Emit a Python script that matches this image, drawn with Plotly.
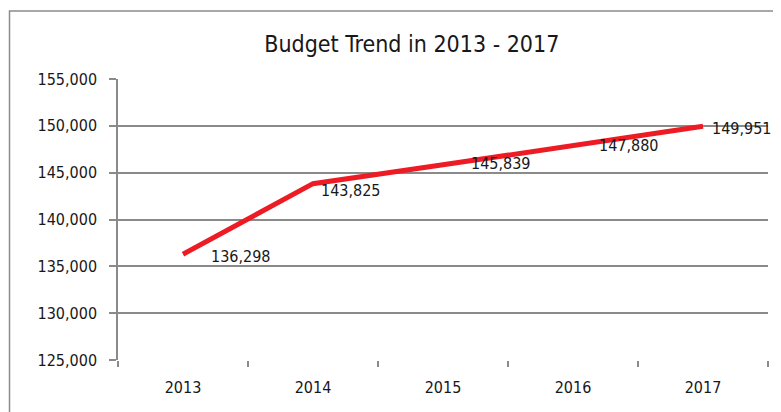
import plotly.graph_objects as go

years = ["2013", "2014", "2015", "2016", "2017"]
budget = [136298, 143825, 145839, 147880, 149951]
label_text = ["136,298", "143,825", "145,839", "147,880", "149,951"]
y_ticks = [125000, 130000, 135000, 140000, 145000, 150000, 155000]
y_tick_text = ["125,000", "130,000", "135,000", "140,000", "145,000", "150,000", "155,000"]

label_dx = [26, 6, 26, 24, 7]
label_dy = [-2, -7, 1, 0, -2]

FONT = "DejaVu Sans Condensed, Liberation Sans Narrow, Roboto, sans-serif"
GRID = "#8a8a8a"
TXT = "#1a1718"

fig = go.Figure()
fig.add_trace(go.Scatter(
    x=years, y=budget, mode="lines",
    line=dict(color="#ED1C24", width=5),
    hoverinfo="skip", showlegend=False,
))

for i, (y, t, dx, dy) in enumerate(zip(budget, label_text, label_dx, label_dy)):
    fig.add_annotation(x=i, y=y, xref="x", yref="y", text=t, showarrow=False,
                       xanchor="left", yanchor="middle",
                       xshift=dx, yshift=dy,
                       font=dict(family=FONT, size=16, color=TXT))

fig.add_shape(type="rect", xref="paper", yref="paper",
              x0=-0.1669, x1=1.3, y0=-0.6, y1=1.242,
              line=dict(color="#8c8c8c", width=1.5), layer="below")

fig.update_layout(
    width=781, height=412,
    margin=dict(l=110, r=21, t=71, b=60),
    paper_bgcolor="white", plot_bgcolor="white",
    title=dict(text="Budget Trend in 2013 - 2017", x=0.517, xanchor="center",
               y=0.9126, yanchor="middle",
               font=dict(family=FONT, size=23, color=TXT)),
    xaxis=dict(type="category", range=[-0.5, 4.5], tickson="boundaries",
               showgrid=False, showline=False, ticks="outside", ticklen=6,
               tickcolor=GRID, tickwidth=1.5, ticklabelstandoff=16,
               tickfont=dict(family=FONT, size=16, color=TXT),
               zeroline=False),
    yaxis=dict(range=[125000, 155000], tickvals=y_ticks, ticktext=y_tick_text,
               showgrid=True, gridcolor=GRID, gridwidth=1.5,
               showline=True, linecolor=GRID, linewidth=1.5,
               ticks="outside", ticklen=7, tickcolor=GRID, tickwidth=1.5,
               ticklabelstandoff=9,
               tickfont=dict(family=FONT, size=16, color=TXT),
               zeroline=False),
)

fig.write_html("out.html")
